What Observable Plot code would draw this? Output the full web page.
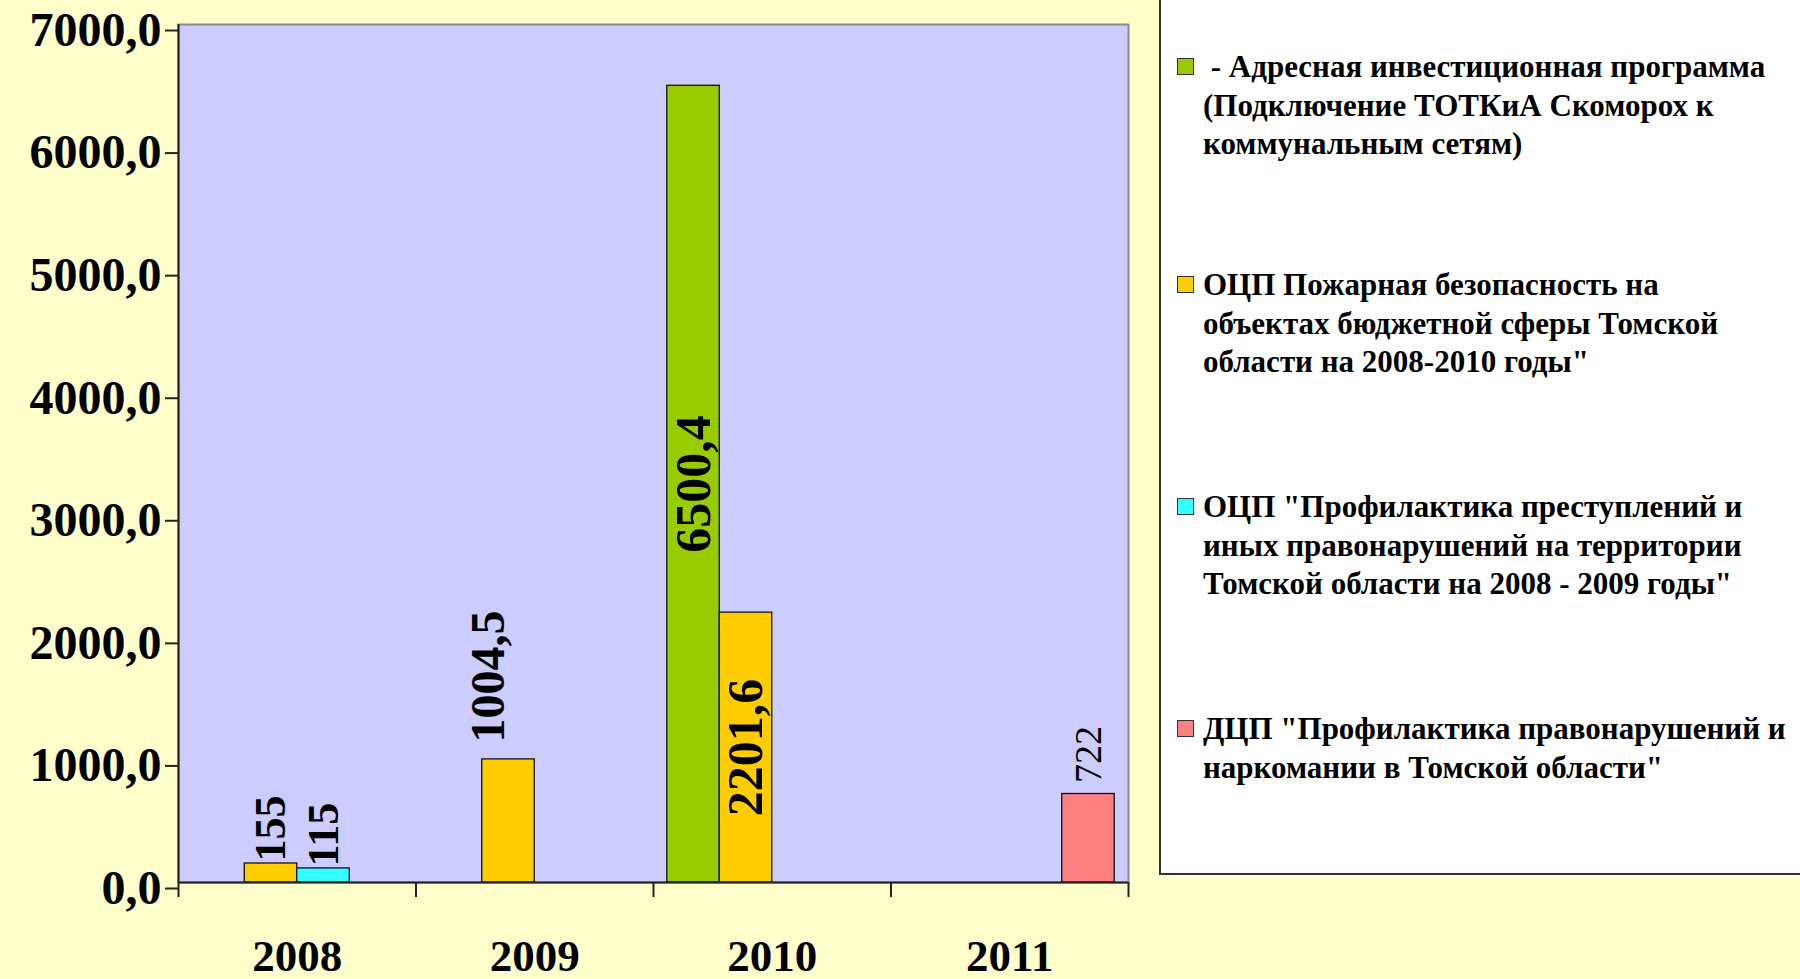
<!DOCTYPE html>
<html>
<head>
<meta charset="utf-8">
<script src="https://cdn.jsdelivr.net/npm/d3@7"></script>
<script src="https://cdn.jsdelivr.net/npm/@observablehq/plot@0.6"></script>
<style>
  html, body { margin: 0; padding: 0; background: #FFFFCC; overflow: hidden; }
  #wrap { position: relative; width: 1800px; height: 979px; }
  #chart { position: absolute; left: 0; top: 0; }
  #legend { position: absolute; left: 1159px; top: -2px; width: 660px; height: 877px;
            box-sizing: border-box; background: #fff; border: 2px solid #333;
            font-family: "Liberation Serif", "Times New Roman", serif; font-weight: bold;
            font-size: 31px; line-height: 38.5px; color: #000; }
  .item { position: absolute; left: 42px; white-space: pre; }
  .sw { position: absolute; left: -26px; width: 15px; height: 15px; border: 1.5px solid #333; }
</style>
</head>
<body>
<div id="wrap">
  <div id="chart"></div>
  <div id="legend"></div>
</div>
<script>
// ---- data ----
const years = ["2008", "2009", "2010", "2011"];
const seriesNames = [
  " - Адресная инвестиционная программа (Подключение ТОТКиА Скоморох к коммунальным сетям)",
  "ОЦП Пожарная безопасность на объектах бюджетной сферы Томской области на 2008-2010 годы\"",
  "ОЦП \"Профилактика преступлений и иных правонарушений на территории Томской области на 2008 - 2009 годы\"",
  "ДЦП \"Профилактика правонарушений и наркомании в Томской области\""
];
const legendLines = [
  [" - Адресная инвестиционная программа", "(Подключение ТОТКиА Скоморох к", "коммунальным сетям)"],
  ["ОЦП Пожарная безопасность на", "объектах бюджетной сферы Томской", "области на 2008-2010 годы\""],
  ["ОЦП \"Профилактика преступлений и", "иных правонарушений на территории", "Томской области на 2008 - 2009 годы\""],
  ["ДЦП \"Профилактика правонарушений и", "наркомании в Томской области\""]
];
const adresnaya     = [null, null, 6500.4, null];
const pozharnaya    = [155, 1004.5, 2201.6, null];
const prestupleniya = [115, null, null, null];
const narkomaniya   = [null, null, null, 722];
const yTicks = [0, 1000, 2000, 3000, 4000, 5000, 6000, 7000];

// ---- styles ----
const colors = ["#99CC00", "#FFCC00", "#33FFFF", "#FF8080"];
const FONT = "Liberation Serif, Times New Roman, serif";
const slot = 0.221;      // bar width in band units

const allSeries = [adresnaya, pozharnaya, prestupleniya, narkomaniya];
const rows = [];
allSeries.forEach((arr, k) => arr.forEach((v, i) => {
  if (v != null) rows.push({i, k, year: years[i], series: seriesNames[k], value: v,
                            label: String(v).replace(".", ",")});
}));
const bx1 = d => d.i + 0.5 + (d.k - 2) * slot;
const bx2 = d => d.i + 0.5 + (d.k - 1) * slot;
const bxc = d => d.i + 0.5 + (d.k - 1.5) * slot;

const outsideBold = rows.filter(d => d.label === "155" || d.label === "115");
const outsideShift = rows.filter(d => d.label === "1004,5");
const inside = rows.filter(d => d.label === "6500,4" || d.label === "2201,6");
const outsideReg = rows.filter(d => d.label === "722");

const fmt = d => d.toFixed(1).replace(".", ",");
const hasAxisMarks = typeof Plot.axisY === "function";

const marks = [
  Plot.frame({fill: "#CCCCFF", stroke: "#8a8a8a", strokeWidth: 2}),
  Plot.rectY(rows, {x1: bx1, x2: bx2, y1: 0, y2: "value", fill: "series", stroke: "#111", strokeWidth: 1.3}),
  Plot.text(outsideBold, {x: bxc, y: "value", text: "label", rotate: -90, textAnchor: "start",
    lineAnchor: "middle", dy: -2, fontSize: 44, fontWeight: "bold", fontFamily: FONT, fill: "#000"}),
  Plot.text(outsideShift, {x: bxc, y: "value", text: "label", rotate: -90, textAnchor: "start",
    lineAnchor: "middle", dx: -20, dy: -17, fontSize: 48, fontWeight: "bold", fontFamily: FONT, fill: "#000"}),
  Plot.text(inside, {x: bxc, y: d => d.value / 2, text: "label", rotate: -90, textAnchor: "middle",
    lineAnchor: "middle", fontSize: 50, fontWeight: "bold", fontFamily: FONT, fill: "#000"}),
  Plot.text(outsideReg, {x: bxc, y: "value", text: "label", rotate: -90, textAnchor: "start",
    lineAnchor: "middle", dy: -11, fontSize: 38, fontFamily: FONT, fill: "#000"}),
  Plot.text(years, {x: (d, i) => i + 0.5, frameAnchor: "bottom", text: d => d, dy: 74,
    lineAnchor: "middle", fontSize: 45, fontWeight: "bold", fontFamily: FONT, fill: "#000"}),
  Plot.ruleY([0], {stroke: "#222", strokeWidth: 2}),
  Plot.ruleX([0], {stroke: "#222", strokeWidth: 2})
];
if (hasAxisMarks) {
  marks.push(
    Plot.axisY({ticks: yTicks, tickSize: 13, tickPadding: 4, tickFormat: fmt, label: null,
      stroke: "#222", strokeWidth: 2, fill: "#000", fontSize: 48, fontWeight: "bold", fontFamily: FONT, dy: 6}),
    Plot.axisX({ticks: [0, 1, 2, 3, 4], tickSize: 15, tickFormat: () => "", label: null,
      stroke: "#222", strokeWidth: 2})
  );
}

const chart = Plot.plot({
  width: 1150,
  height: 979,
  marginLeft: 178,
  marginRight: 22,
  marginTop: 24,
  marginBottom: 97,
  style: {background: "transparent", fontFamily: FONT, color: "#000", overflow: "visible"},
  x: {type: "linear", domain: [0, 4], axis: hasAxisMarks ? null : "bottom", ticks: 4, tickFormat: () => "", tickSize: 15},
  y: {domain: [0, 7000], nice: false, axis: hasAxisMarks ? null : "left", ticks: yTicks, tickFormat: fmt, tickSize: 13, label: null},
  color: {domain: seriesNames, range: colors},
  marks
});
document.getElementById("chart").appendChild(chart);

// ---- legend (HTML, to the right of the plot) ----
const legend = document.getElementById("legend");
const baselines = [78, 296, 518, 740];
const fs = 31, lh = 38.5;
const baseOff = (lh - 1.107 * fs) / 2 + 0.891 * fs;
legendLines.forEach((lines, k) => {
  const div = document.createElement("div");
  div.className = "item";
  div.style.top = (baselines[k] - baseOff) + "px";
  const sw = document.createElement("div");
  sw.className = "sw";
  sw.style.background = colors[k];
  sw.style.top = (baseOff - 20) + "px";
  div.appendChild(sw);
  lines.forEach((t, j) => {
    if (j) div.appendChild(document.createElement("br"));
    div.appendChild(document.createTextNode(t));
  });
  legend.appendChild(div);
});
</script>
</body>
</html>
